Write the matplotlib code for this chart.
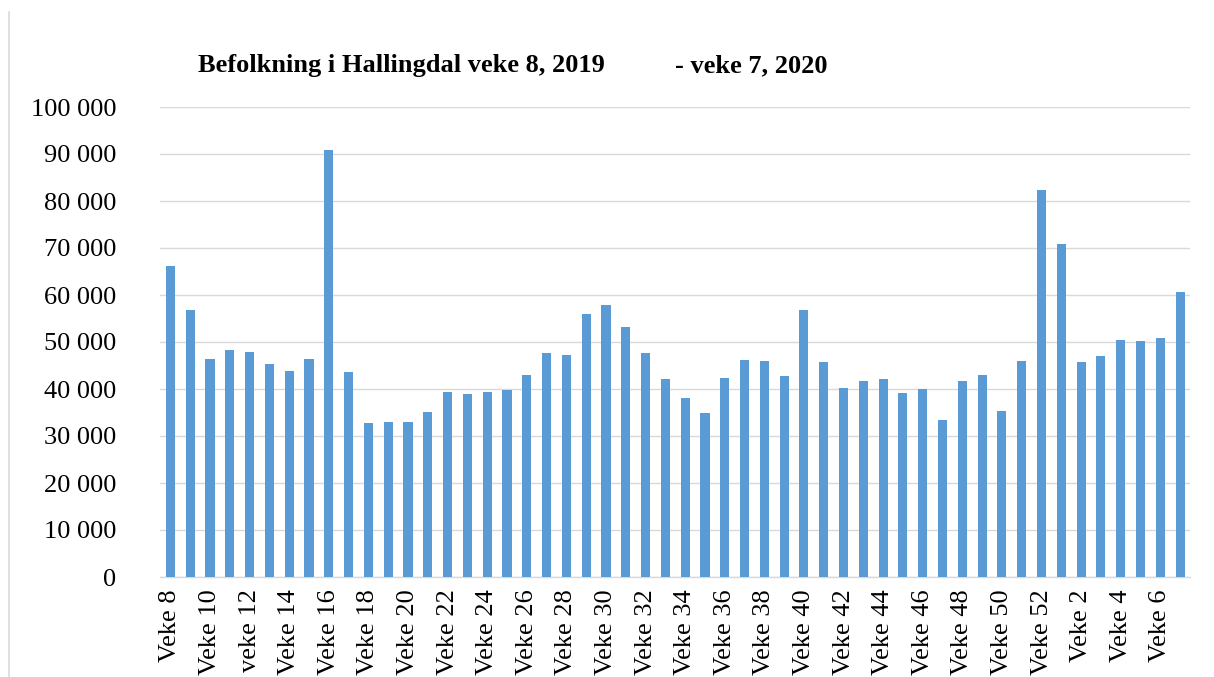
import matplotlib
matplotlib.use("Agg")
import matplotlib.pyplot as plt
from matplotlib.lines import Line2D
from matplotlib.ticker import FuncFormatter

# weeks 8-52 of 2019, then weeks 1-7 of 2020
weeks = list(range(8, 53)) + list(range(1, 8))
labels = ["Veke %d" % w for w in weeks]
labels[4] = "veke 12"

population = [66100, 56800, 46300, 48300, 47800, 45300, 43800, 46300, 90800, 43600,
              32700, 32900, 32900, 35100, 39300, 38900, 39300, 39700, 42900, 47600,
              47200, 55900, 57800, 53200, 47600, 42100, 38000, 34800, 42300, 46100,
              45900, 42700, 56800, 45700, 40200, 41700, 42100, 39100, 40000, 33400,
              41700, 42900, 35300, 45900, 82300, 70800, 45700, 47000, 50400, 50200,
              50800, 60600]

title_left = "Befolkning i Hallingdal veke 8, 2019"
title_right = "- veke 7, 2020"

plt.rcParams['font.family'] = ['Liberation Serif', 'DejaVu Serif']

fig = plt.figure(figsize=(12.14, 6.77), dpi=100)
ax = fig.add_axes([160.5 / 1214, 1 - 577 / 677, (1190 - 160.5) / 1214, 470 / 677])

x = list(range(len(population)))
ax.bar(x, population, width=0.46, color='#5B9BD5', zorder=3)

ax.set_xlim(-0.5, len(population) - 0.5)
ax.set_ylim(0, 100000)
ax.set_yticks(range(0, 100001, 10000))
ax.yaxis.set_major_formatter(FuncFormatter(lambda v, p: "{:,}".format(int(v)).replace(",", " ")))
ax.grid(axis='y', color='#D9D9D9', linewidth=1.0, zorder=0)

ax.set_xticks(x[::2])
ax.set_xticklabels(labels[::2], rotation=90, va='top', ha='center')

for s in ['top', 'right', 'left']:
    ax.spines[s].set_visible(False)
ax.spines['bottom'].set_color('#D9D9D9')
ax.spines['bottom'].set_linewidth(1.0)

ax.tick_params(axis='both', length=0, labelsize=19)
ax.tick_params(axis='y', pad=32)
ax.tick_params(axis='x', pad=9)

fig.text(198 / 1214, 1 - 72 / 677, title_left, fontsize=19, fontweight='bold',
         ha='left', va='baseline')
fig.text(675 / 1214, 1 - 72 / 677, title_right, fontsize=19, fontweight='bold',
         ha='left', va='baseline')

# thin border line at the left edge
fig.add_artist(Line2D([8.5 / 1214, 8.5 / 1214], [0, 1 - 12 / 677],
                      transform=fig.transFigure, color='#D9D9D9', linewidth=1.2))

fig.savefig("out.png", dpi=100)
